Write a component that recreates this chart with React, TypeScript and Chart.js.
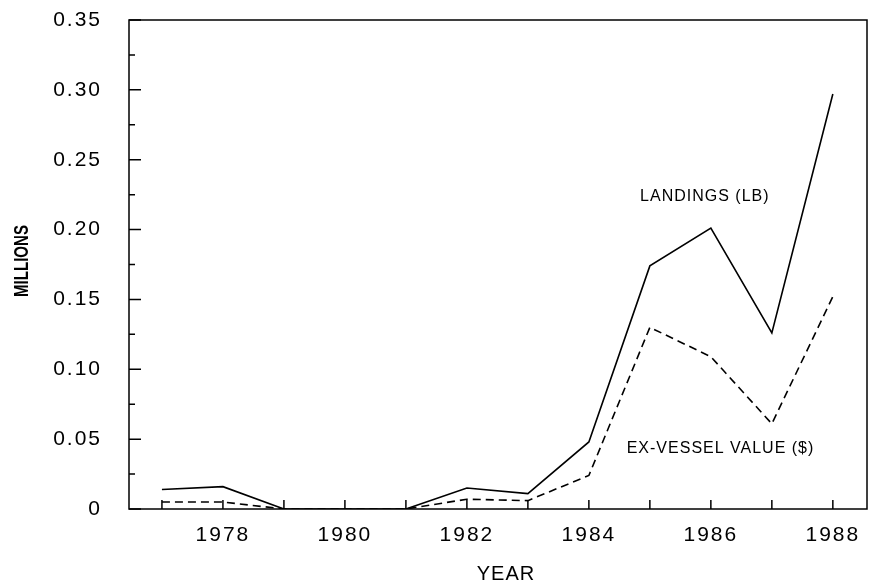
import React, { useEffect, useRef } from "react";
import { Chart, registerables } from "chart.js";

Chart.register(...registerables);

const years = [1977, 1978, 1979, 1980, 1981, 1982, 1983, 1984, 1985, 1986, 1987, 1988];
const landings = [0.014, 0.016, 0, 0, 0, 0.015, 0.011, 0.048, 0.174, 0.201, 0.126, 0.297];
const exVesselValue = [0.005, 0.005, 0, 0, 0, 0.007, 0.006, 0.024, 0.130, 0.109, 0.061, 0.152];
const yTickValues = [0, 0.025, 0.05, 0.075, 0.1, 0.125, 0.15, 0.175, 0.2, 0.225, 0.25, 0.275, 0.3, 0.325, 0.35];
const yTickLabels = ["0", "", "0.05", "", "0.10", "", "0.15", "", "0.20", "", "0.25", "", "0.30", "", "0.35"];
const xAxisTitle = "YEAR";
const yAxisTitle = "MILLIONS";
const landingsLabel = "LANDINGS (LB)";
const valueLabel = "EX-VESSEL VALUE ($)";

const FONT = "'Liberation Sans', Arial, sans-serif";

const noPad = (s: any) => {
  s.paddingTop = 0;
  s.paddingBottom = 0;
  s.paddingLeft = 0;
  s.paddingRight = 0;
};

const framePlugin = {
  id: "framePlugin",
  beforeDraw(chart: any) {
    (chart.ctx as any).letterSpacing = "2px";
  },
  afterDraw(chart: any) {
    const ctx = chart.ctx;
    const { left, right, top, bottom } = chart.chartArea;
    const xs = chart.scales.x;
    const ys = chart.scales.y;
    ctx.save();
    ctx.strokeStyle = "#000";
    ctx.lineWidth = 1.5;
    ctx.strokeRect(left, top, right - left, bottom - top);
    ctx.beginPath();
    xs.ticks.forEach((t: any) => {
      const px = xs.getPixelForValue(t.value);
      ctx.moveTo(px, bottom);
      ctx.lineTo(px, bottom - 9);
    });
    ys.ticks.forEach((t: any, i: number) => {
      const py = ys.getPixelForValue(t.value);
      const major = yTickLabels[i] !== "";
      ctx.moveTo(left, py);
      ctx.lineTo(left + (major ? 12 : 6), py);
    });
    ctx.stroke();

    ctx.fillStyle = "#000";
    (ctx as any).letterSpacing = "1px";
    ctx.font = `16px ${FONT}`;
    ctx.textAlign = "left";
    ctx.textBaseline = "middle";
    ctx.fillText(landingsLabel, xs.getPixelForValue(1984.84), ys.getPixelForValue(0.2236));
    ctx.fillText(valueLabel, xs.getPixelForValue(1984.62), ys.getPixelForValue(0.0429));

    ctx.font = `20px ${FONT}`;
    ctx.textAlign = "center";
    ctx.fillText(xAxisTitle, (left + right) / 2 + 8, 574);

    ctx.save();
    (ctx as any).letterSpacing = "0px";
    ctx.translate(22, 261);
    ctx.rotate(-Math.PI / 2);
    ctx.font = `bold 20px ${FONT}`;
    const w = ctx.measureText(yAxisTitle).width;
    ctx.scale(72 / w, 1);
    ctx.textAlign = "center";
    ctx.textBaseline = "middle";
    ctx.fillText(yAxisTitle, 0, 0);
    ctx.restore();
    ctx.restore();
  },
};

export default function App() {
  const ref = useRef<HTMLCanvasElement>(null);
  useEffect(() => {
    document.body.style.margin = "0";
    const canvas = ref.current!;
    const chart = new Chart(canvas, {
      type: "line",
      data: {
        datasets: [
          {
            label: landingsLabel,
            data: years.map((x, i) => ({ x, y: landings[i] })),
            borderColor: "#000",
            borderWidth: 1.6,
            pointRadius: 0,
            tension: 0,
            fill: false,
          },
          {
            label: valueLabel,
            data: years.map((x, i) => ({ x, y: exVesselValue[i] })),
            borderColor: "#000",
            borderWidth: 1.6,
            borderDash: [8, 5],
            pointRadius: 0,
            tension: 0,
            fill: false,
          },
        ],
      },
      options: {
        responsive: false,
        animation: false,
        layout: { padding: { top: 20, right: 3, left: 0, bottom: 0 } },
        plugins: { legend: { display: false }, tooltip: { enabled: false } },
        scales: {
          x: {
            type: "linear",
            min: 1976.46,
            max: 1988.56,
            grid: { display: false, drawTicks: false },
            border: { display: false },
            afterBuildTicks: (s: any) => {
              s.ticks = years.map((v) => ({ value: v }));
            },
            afterFit: (s: any) => {
              s.height = 77;
              noPad(s);
            },
            ticks: {
              autoSkip: false,
              maxRotation: 0,
              color: "#000",
              padding: 14,
              font: { family: FONT, size: 21 },
              callback: (v: any) => (Math.round(v) % 2 === 0 ? String(Math.round(v)) : ""),
            },
          },
          y: {
            type: "linear",
            min: 0,
            max: 0.35,
            grid: { display: false, drawTicks: false },
            border: { display: false },
            afterBuildTicks: (s: any) => {
              s.ticks = yTickValues.map((v) => ({ value: v }));
            },
            afterFit: (s: any) => {
              s.width = 129;
              noPad(s);
            },
            ticks: {
              autoSkip: false,
              color: "#000",
              padding: 27,
              font: { family: FONT, size: 21 },
              callback: (_v: any, i: number) => yTickLabels[i],
            },
          },
        },
      },
      plugins: [framePlugin],
    });
    return () => chart.destroy();
  }, []);
  return <canvas ref={ref} width={870} height={586} style={{ display: "block" }} />;
}
